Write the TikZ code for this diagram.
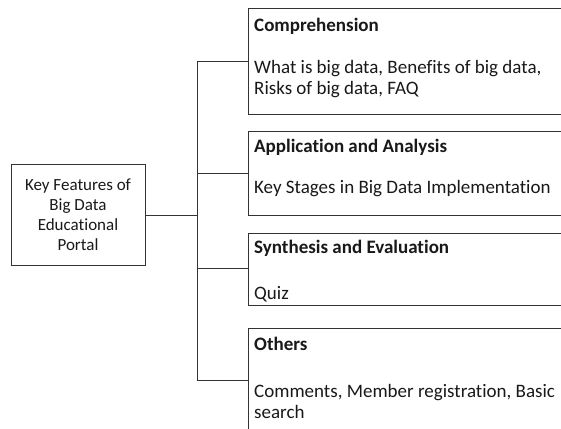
\documentclass[tikz,border=0pt]{standalone}
\usepackage{fontspec}
\setmainfont{Carlito}[Ligatures=NoCommon,RawFeature={-liga;-dlig}]
\begin{document}
\begin{tikzpicture}[x=1pt,y=-1pt,
  frame/.style={draw=black!80, line width=0.8pt, inner sep=0pt, outer sep=0pt, anchor=north west},
  conn/.style={draw=black!80, line width=0.8pt},
  txt/.style={anchor=base west, inner sep=0pt, font=\fontsize{19}{21}\selectfont, text=black!90},
  head/.style={txt, font=\fontsize{19}{21}\selectfont\bfseries}]
\useasboundingbox (0,0) rectangle (561,428);
\fill[white] (0,0) rectangle (561,428);
% left box
\node[frame, minimum width=134pt, minimum height=101pt, align=center,
      font=\fontsize{17}{20}\selectfont, text=black!90] (L) at (11,164)
      {Key Features of\\Big Data\\Educational\\Portal};
% right boxes
\node[frame, minimum width=330pt, minimum height=106pt] (B1) at (248,8) {};
\node[frame, minimum width=330pt, minimum height=84pt] (B2) at (248,131) {};
\node[frame, minimum width=330pt, minimum height=72pt] (B3) at (248,233) {};
\node[frame, minimum width=330pt, minimum height=120pt] (B4) at (248,328) {};
% texts
\node[head] (h1) at (254,31) {Comprehension};
\node[txt] (t1a) at (254,73) {What is big data, Benefits of big data,};
\node[txt] (t1b) at (254,94) {Risks of big data, FAQ};
\node[head] (h2) at (254,152) {Application and Analysis};
\node[txt] (t2) at (254,193) {Key Stages in Big Data Implementation};
\node[head] (h3) at (254,253) {Synthesis and Evaluation};
\node[txt] (t3) at (254,299) {Quiz};
\node[head] (h4) at (254,350) {Others};
\node[txt] (t4a) at (254,397) {Comments, Member registration, Basic};
\node[txt] (t4b) at (254,418) {search};
% connectors
\coordinate (J) at (197,215);
\coordinate (T1) at (197,61);
\coordinate (T2) at (197,173);
\coordinate (T3) at (197,268);
\coordinate (T4) at (197,380);
\draw[conn] (L.east |- J) -- (J);
\draw[conn] (T1) -- (T4);
\draw[conn] (T1) -- (T1 -| B1.west);
\draw[conn] (T2) -- (T2 -| B2.west);
\draw[conn] (T3) -- (T3 -| B3.west);
\draw[conn] (T4) -- (T4 -| B4.west);
\end{tikzpicture}
\end{document}
